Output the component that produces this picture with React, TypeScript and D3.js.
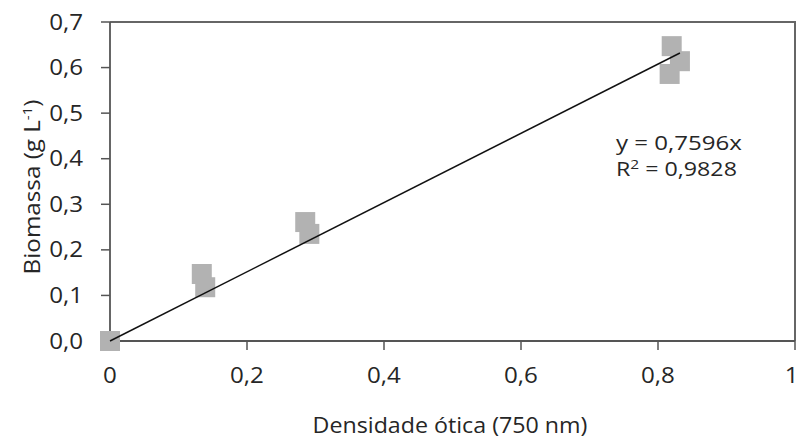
import { useRef, useEffect } from "react";
import * as d3 from "d3";

// measured points (optical density vs biomass)
const odValues = [0, 0.134, 0.139, 0.285, 0.291, 0.82, 0.832, 0.817];
const biomassValues = [0, 0.147, 0.118, 0.261, 0.235, 0.647, 0.614, 0.586];
const xTicks = [0, 0.2, 0.4, 0.6, 0.8, 1];
const yTicks = [0, 0.1, 0.2, 0.3, 0.4, 0.5, 0.6, 0.7];
const slope = 0.7596;
const rSquared = "0,9828";

const W = 797;
const H = 439;
const FONT = "'Open Sans', Lato, sans-serif";
const TEXT = "#262626";

// stretch a text horizontally (in its own frame) so it spans `target` px
function fitWidth(sel: d3.Selection<SVGTextElement, unknown, null, undefined>, target: number, ox: number, oy: number, rot = 0) {
  const node = sel.node();
  if (!node) return;
  const w = node.getBBox().width;
  const k = w > 0 ? target / w : 1;
  sel.attr("transform", `translate(${ox},${oy}) rotate(${rot}) scale(${k},1)`);
}

export default function App() {
  const svgRef = useRef<SVGSVGElement>(null);

  useEffect(() => {
    document.body.style.margin = "0";
    const svg = d3.select(svgRef.current);
    svg.selectAll("*").remove();

    const x = d3.scaleLinear().domain([0, 1]).range([110, 795]);
    const y = d3.scaleLinear().domain([0, 0.7]).range([341, 22]);
    const fmt = (v: number) => (v === 0 || v === 1 ? String(v) : d3.format(".1f")(v).replace(".", ","));
    const fmtY = (v: number) => d3.format(".1f")(v).replace(".", ",");

    // plot frame (top + right)
    svg.append("path")
      .attr("d", `M${x(0)},${y(0.7)}H${x(1)}V${y(0)}`)
      .attr("fill", "none")
      .attr("stroke", "#666")
      .attr("stroke-width", 2);

    // x axis
    const gx = svg.append("g").attr("transform", `translate(0,${y(0)})`);
    gx.append("line").attr("x1", x(0)).attr("x2", x(1)).attr("stroke", "#555").attr("stroke-width", 1.8);
    gx.selectAll("line.tick").data(xTicks).join("line")
      .attr("class", "tick")
      .attr("x1", (d) => x(d)).attr("x2", (d) => x(d))
      .attr("y1", 0).attr("y2", 9)
      .attr("stroke", "#555").attr("stroke-width", 1.5);
    gx.selectAll("text").data(xTicks).join("text")
      .attr("x", (d) => (d === 1 ? x(d) - 3 : x(d))).attr("y", 42)
      .attr("text-anchor", "middle")
      .attr("font-family", FONT).attr("font-size", 21).attr("fill", TEXT)
      .attr("transform", (d) => `translate(${x(d)},0) scale(1.15,1) translate(${-x(d)},0)`)
      .text((d) => fmt(d));

    // y axis
    const gy = svg.append("g").attr("transform", `translate(${x(0)},0)`);
    gy.append("line").attr("y1", y(0)).attr("y2", y(0.7)).attr("stroke", "#555").attr("stroke-width", 1.8);
    gy.selectAll("line.tick").data(yTicks).join("line")
      .attr("class", "tick")
      .attr("x1", -9).attr("x2", 0)
      .attr("y1", (d) => y(d)).attr("y2", (d) => y(d))
      .attr("stroke", "#555").attr("stroke-width", 1.5);
    gy.selectAll("text").data(yTicks).join("text")
      .attr("x", 0).attr("y", (d) => y(d))
      .attr("dy", "0.36em")
      .attr("text-anchor", "end")
      .attr("font-family", FONT).attr("font-size", 21).attr("fill", TEXT)
      .attr("transform", "translate(-27,0) scale(1.15,1)")
      .text((d) => fmtY(d));

    // points
    const s = 20;
    svg.append("g").selectAll("rect").data(odValues).join("rect")
      .attr("x", (d) => x(d) - s / 2)
      .attr("y", (_d, i) => y(biomassValues[i]) - s / 2)
      .attr("width", s).attr("height", s)
      .attr("fill", "#b2b2b2");

    // trend line through origin
    const xmax = d3.max(odValues) as number;
    svg.append("line")
      .attr("x1", x(0)).attr("y1", y(0))
      .attr("x2", x(xmax)).attr("y2", y(slope * xmax))
      .attr("stroke", "#111").attr("stroke-width", 1.5);

    // equation
    const eq1 = svg.append("text")
      .attr("font-family", FONT).attr("font-size", 19.5).attr("fill", TEXT)
      .text(`y = ${String(slope).replace(".", ",")}x`);
    fitWidth(eq1, 126, 616, 150);
    const eq2 = svg.append("text")
      .attr("font-family", FONT).attr("font-size", 19.5).attr("fill", TEXT);
    eq2.append("tspan").text("R");
    eq2.append("tspan").text("2").attr("font-size", 13).attr("dy", -7);
    eq2.append("tspan").text(` = ${rSquared}`).attr("dy", 7);
    fitWidth(eq2, 121, 616, 176);

    // axis titles
    const xt = svg.append("text")
      .attr("text-anchor", "middle")
      .attr("font-family", FONT).attr("font-size", 21).attr("fill", TEXT)
      .text("Densidade ótica (750 nm)");
    fitWidth(xt, 275, 450, 433);

    const yt = svg.append("text")
      .attr("text-anchor", "middle")
      .attr("font-family", FONT).attr("font-size", 21).attr("fill", TEXT);
    yt.append("tspan").text("Biomassa (g L");
    yt.append("tspan").text("-1").attr("font-size", 13).attr("dy", -8);
    yt.append("tspan").text(")").attr("dy", 8);
    fitWidth(yt, 175, 40, 187, -90);
  }, []);

  return <svg ref={svgRef} width={W} height={H} style={{ display: "block", background: "#fff" }} />;
}
